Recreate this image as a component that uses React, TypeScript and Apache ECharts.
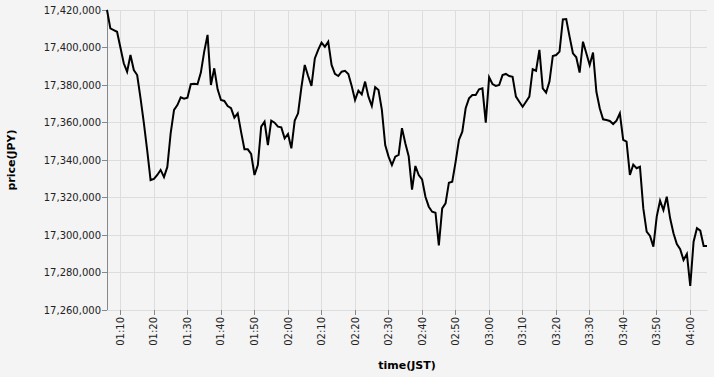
import React, { useEffect, useRef } from "react";
import * as echarts from "echarts";

// time of first sample, minutes after midnight (JST) -> 01:06, one sample per minute
const START_MINUTE = 66;
const STEP_MINUTES = 1;

// price(JPY), one value per minute from 01:06 to 04:05
const prices: number[] = [
  17420000, 17410200, 17409300, 17408400, 17400000, 17391600, 17387100, 17396000, 17388000, 17385300,
  17373000, 17359700, 17345000, 17329300, 17329900, 17332000, 17334700, 17330900, 17336300, 17354400,
  17366700, 17369300, 17373400, 17372700, 17373200, 17380400, 17380600, 17380400, 17386600, 17397800,
  17406700, 17380000, 17388900, 17377700, 17372000, 17371500, 17368800, 17367600, 17362600, 17364900,
  17355000, 17345700, 17345700, 17343200, 17332000, 17337300, 17357800, 17360400, 17348000, 17361000,
  17359900, 17357800, 17357400, 17351600, 17353900, 17346200, 17361000, 17364900, 17378800, 17390700,
  17384800, 17379500, 17394200, 17398700, 17402600, 17400400, 17403100, 17390700, 17385900, 17384800,
  17387100, 17387600, 17385900, 17379500, 17372000, 17377000, 17375000, 17381800, 17373800, 17368800,
  17378800, 17377300, 17366700, 17348000, 17341800, 17337300, 17341800, 17342700, 17357000, 17348900,
  17342000, 17324200, 17336800, 17332000, 17329700, 17320400, 17315100, 17312400, 17311900, 17294500,
  17314200, 17316900, 17327900, 17328400, 17339000, 17350700, 17355100, 17367600, 17372900, 17374700,
  17374700, 17377700, 17378200, 17359900, 17384100, 17380500, 17379500, 17380000, 17385300, 17385900,
  17384800, 17384400, 17373800, 17371100, 17368400, 17371100, 17373800, 17388400, 17387600, 17398700,
  17378200, 17375900, 17381800, 17395500, 17396000, 17397800, 17415000, 17415200, 17405800, 17396900,
  17394800, 17386600, 17403100, 17396900, 17390700, 17397300, 17376400, 17367600, 17361700, 17361300,
  17360800, 17359200, 17361000, 17364900, 17350700, 17349800, 17332000, 17337500, 17335600, 17336400,
  17314200, 17301800, 17299500, 17293800, 17309800, 17318300, 17313300, 17320400, 17308900, 17300900,
  17295200, 17292400, 17286700, 17289900, 17272800, 17296400, 17303600, 17302300, 17294100, 17294100,
];

// x tick positions (minutes after midnight): 01:10 ... 04:00
const timeTicks: number[] = [
  70, 80, 90, 100, 110, 120, 130, 140, 150, 160, 170, 180, 190, 200, 210, 220, 230, 240,
];

const Y_MIN = 17260000;
const Y_MAX = 17420000;
const Y_STEP = 20000;

const fmtTime = (m: number) => {
  const h = Math.floor(m / 60);
  const mm = Math.round(m - h * 60);
  return String(h).padStart(2, "0") + ":" + String(mm).padStart(2, "0");
};

const fmtNum = (v: number) =>
  String(Math.round(v)).replace(/\B(?=(\d{3})+(?!\d))/g, ",");

export default function App() {
  const ref = useRef<HTMLDivElement>(null);

  useEffect(() => {
    if (!ref.current) return;
    const chart = echarts.init(ref.current, undefined, { renderer: "svg" });
    const data = prices.map((p, i) => [START_MINUTE + i * STEP_MINUTES, p]);
    const xMin = START_MINUTE;
    const xMax = START_MINUTE + (prices.length - 1) * STEP_MINUTES;
    const font = "DejaVu Sans";

    chart.setOption({
      animation: false,
      backgroundColor: "#f4f4f4",
      textStyle: { fontFamily: font },
      grid: {
        left: 107,
        right: 7,
        top: 10,
        bottom: 67,
        containLabel: false,
        outerBoundsMode: "none",
      },
      xAxis: {
        type: "value",
        min: xMin,
        max: xMax,
        name: "time(JST)",
        nameLocation: "middle",
        nameGap: 50,
        nameTextStyle: { fontFamily: font, fontSize: 11, fontWeight: "bold", color: "#000" },
        axisLine: { show: true, onZero: false, lineStyle: { color: "#dddddd", width: 1 } },
        axisTick: {
          show: true,
          length: 5,
          customValues: timeTicks,
          lineStyle: { color: "#888888" },
        },
        axisLabel: {
          customValues: timeTicks,
          rotate: 90,
          margin: 7,
          fontFamily: font,
          fontSize: 10,
          color: "#222",
          formatter: (v: number) => fmtTime(v),
        },
        splitLine: { show: true, lineStyle: { color: "#dddddd", width: 1 } },
      },
      yAxis: {
        type: "value",
        min: Y_MIN,
        max: Y_MAX,
        interval: Y_STEP,
        name: "price(JPY)",
        nameLocation: "middle",
        nameGap: 90,
        nameTextStyle: { fontFamily: font, fontSize: 11, fontWeight: "bold", color: "#000" },
        axisLine: { show: true, lineStyle: { color: "#888888", width: 1 } },
        axisTick: { show: true, length: 5, lineStyle: { color: "#888888" } },
        axisLabel: {
          margin: 6,
          fontFamily: font,
          fontSize: 10,
          color: "#222",
          formatter: (v: number) => fmtNum(v),
        },
        splitLine: { show: true, lineStyle: { color: "#dddddd", width: 1 } },
      },
      series: [
        {
          type: "line",
          data,
          showSymbol: false,
          symbol: "none",
          lineStyle: { color: "#000000", width: 2, join: "miter" },
          silent: true,
        },
      ],
    });
    return () => chart.dispose();
  }, []);

  return (
    <div
      ref={ref}
      style={{ position: "fixed", left: 0, top: 0, width: 714, height: 377 }}
    />
  );
}
